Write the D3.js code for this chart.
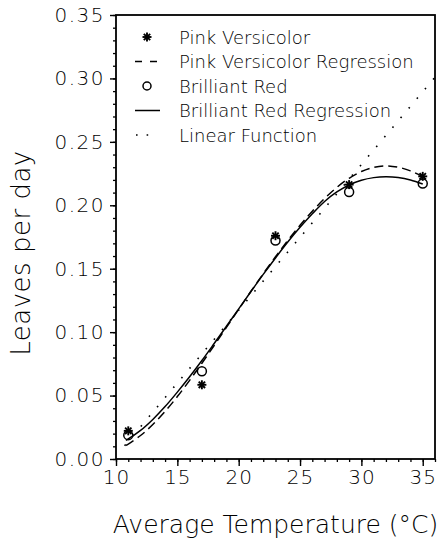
<!DOCTYPE html>
<html><head><meta charset="utf-8">
<script src="https://cdn.jsdelivr.net/npm/d3@7"></script>
<style>body{margin:0;background:#fff}svg{display:block}text{font-family:"DejaVu Sans",sans-serif;font-weight:200;fill:#000}</style>
</head><body><svg id="c" width="444" height="540"></svg>
<script>
const temps = [11, 17, 23, 29, 35];
const pinkVersicolor = [0.0222, 0.0585, 0.1760, 0.2163, 0.2228];
const brilliantRed = [0.0188, 0.0692, 0.1722, 0.2105, 0.2172];
const curveTemps = [10.8, 11, 12, 13, 14, 15, 16, 17, 18, 19, 20, 21, 22, 23, 24, 25, 26, 27, 28, 29, 30, 31, 32, 33, 34, 35];
const pinkRegression = [0.0108, 0.0118, 0.0185, 0.0272, 0.0375, 0.0492, 0.0620, 0.0755, 0.0895, 0.1037, 0.1180, 0.1322, 0.1460, 0.1594, 0.1722, 0.1842, 0.1953, 0.2054, 0.2141, 0.2213, 0.2266, 0.2299, 0.2311, 0.2300, 0.2271, 0.2227];
const redRegression = [0.0148, 0.0158, 0.0225, 0.0312, 0.0413, 0.0527, 0.0648, 0.0776, 0.0910, 0.1046, 0.1183, 0.1320, 0.1455, 0.1585, 0.1710, 0.1826, 0.1933, 0.2030, 0.2105, 0.2160, 0.2197, 0.2218, 0.2225, 0.2219, 0.2200, 0.2168];
const linearTemps = [10.7, 36];
const linearValues = [0.0105, 0.3010];
const xTicks = [10, 15, 20, 25, 30, 35];
const yTicks = [0.00, 0.05, 0.10, 0.15, 0.20, 0.25, 0.30, 0.35];
const legendLabels = ["Pink Versicolor", "Pink Versicolor Regression", "Brilliant Red", "Brilliant Red Regression", "Linear Function"];
const xTitle = "Average Temperature (°C)";
const yTitle = "Leaves per day";

const svg = d3.select("#c");
const L = 116, R = 435, T = 15, B = 459;
const x = d3.scaleLinear().domain([10, 36]).range([L, R]);
const y = d3.scaleLinear().domain([0, 0.35]).range([B, T]);

// minor ticks
const xMinor = d3.range(10, 37, 1);
const yMinor = d3.range(0, 36, 1).map(d => d / 100);
svg.append("g").attr("transform", `translate(0,${B})`)
  .call(d3.axisBottom(x).tickValues(xMinor).tickSize(3).tickFormat(""))
  .call(g => g.select(".domain").remove())
  .selectAll("line").attr("stroke-width", 1.3);
svg.append("g").attr("transform", `translate(${L},0)`)
  .call(d3.axisLeft(y).tickValues(yMinor).tickSize(3).tickFormat(""))
  .call(g => g.select(".domain").remove())
  .selectAll("line").attr("stroke-width", 1.3);
// major ticks
const gx = svg.append("g").attr("transform", `translate(0,${B})`)
  .call(d3.axisBottom(x).tickValues(xTicks).tickSize(7).tickPadding(4).tickFormat(d3.format("d")));
gx.select(".domain").remove();
gx.selectAll("line").attr("stroke-width", 1.4);
gx.selectAll("text").style("font-size", "20px").style("letter-spacing", "1px").attr("dy", "0.71em");
const gy = svg.append("g").attr("transform", `translate(${L},0)`)
  .call(d3.axisLeft(y).tickValues(yTicks).tickSize(6).tickPadding(5).tickFormat(d3.format(".2f")));
gy.select(".domain").remove();
gy.selectAll("line").attr("stroke-width", 1.4);
gy.selectAll("text").style("font-size", "20px").style("letter-spacing", "1.5px");

// frame
svg.append("rect").attr("x", L).attr("y", T).attr("width", R - L).attr("height", B - T)
  .attr("fill", "none").attr("stroke", "#000").attr("stroke-width", 1.8);

// titles
svg.append("text").attr("x", (L + R) / 2).attr("y", 533).attr("text-anchor", "middle")
  .style("font-size", "25px").text(xTitle);
svg.append("text").attr("transform", `translate(30,${(T + B) / 2 + 16}) rotate(-90)`).attr("text-anchor", "middle")
  .style("font-size", "26px").style("letter-spacing", "0.5px").text(yTitle);

const lineGen = d3.line().x(d => x(d[0])).y(d => y(d[1])).curve(d3.curveCatmullRom);
const plot = svg.append("g");
plot.append("path").datum(linearTemps.map((t, i) => [t, linearValues[i]]))
  .attr("d", d3.line().x(d => x(d[0])).y(d => y(d[1])))
  .attr("fill", "none").attr("stroke", "#000").attr("stroke-width", 1.6).attr("stroke-dasharray", "1.6,11");
plot.append("path").datum(curveTemps.map((t, i) => [t, pinkRegression[i]]))
  .attr("d", lineGen).attr("fill", "none").attr("stroke", "#000").attr("stroke-width", 1.5).attr("stroke-dasharray", "9,5");
plot.append("path").datum(curveTemps.map((t, i) => [t, redRegression[i]]))
  .attr("d", lineGen).attr("fill", "none").attr("stroke", "#000").attr("stroke-width", 1.5);

function asterisk(g, cx, cy) {
  const r = 4.5;
  [0, 45, 90, 135].forEach(a => {
    const rad = a * Math.PI / 180;
    g.append("line").attr("x1", cx - r * Math.cos(rad)).attr("y1", cy - r * Math.sin(rad))
      .attr("x2", cx + r * Math.cos(rad)).attr("y2", cy + r * Math.sin(rad))
      .attr("stroke", "#000").attr("stroke-width", 1.9);
  });
}
plot.selectAll("circle.br").data(temps).enter().append("circle").attr("class", "br")
  .attr("cx", d => x(d)).attr("cy", (d, i) => y(brilliantRed[i])).attr("r", 4.5)
  .attr("fill", "none").attr("stroke", "#000").attr("stroke-width", 1.5);
temps.forEach((t, i) => asterisk(plot, x(t), y(pinkVersicolor[i])));

// legend
const lg = svg.append("g");
const rowY = i => 37 + i * 24.5;
legendLabels.forEach((lab, i) => {
  lg.append("text").attr("x", 179).attr("y", rowY(i) + 6.5).style("font-size", "18px").text(lab);
});
asterisk(lg, 147, rowY(0));
lg.append("line").attr("x1", 135).attr("x2", 158).attr("y1", rowY(1)).attr("y2", rowY(1))
  .attr("stroke", "#000").attr("stroke-width", 1.5).attr("stroke-dasharray", "7,8");
lg.append("circle").attr("cx", 147).attr("cy", rowY(2)).attr("r", 4).attr("fill", "none").attr("stroke", "#000").attr("stroke-width", 1.5);
lg.append("line").attr("x1", 135).attr("x2", 160).attr("y1", rowY(3)).attr("y2", rowY(3))
  .attr("stroke", "#000").attr("stroke-width", 1.5);
lg.append("line").attr("x1", 136).attr("x2", 150).attr("y1", rowY(4)).attr("y2", rowY(4))
  .attr("stroke", "#000").attr("stroke-width", 1.6).attr("stroke-dasharray", "1.6,9");
</script></body></html>
